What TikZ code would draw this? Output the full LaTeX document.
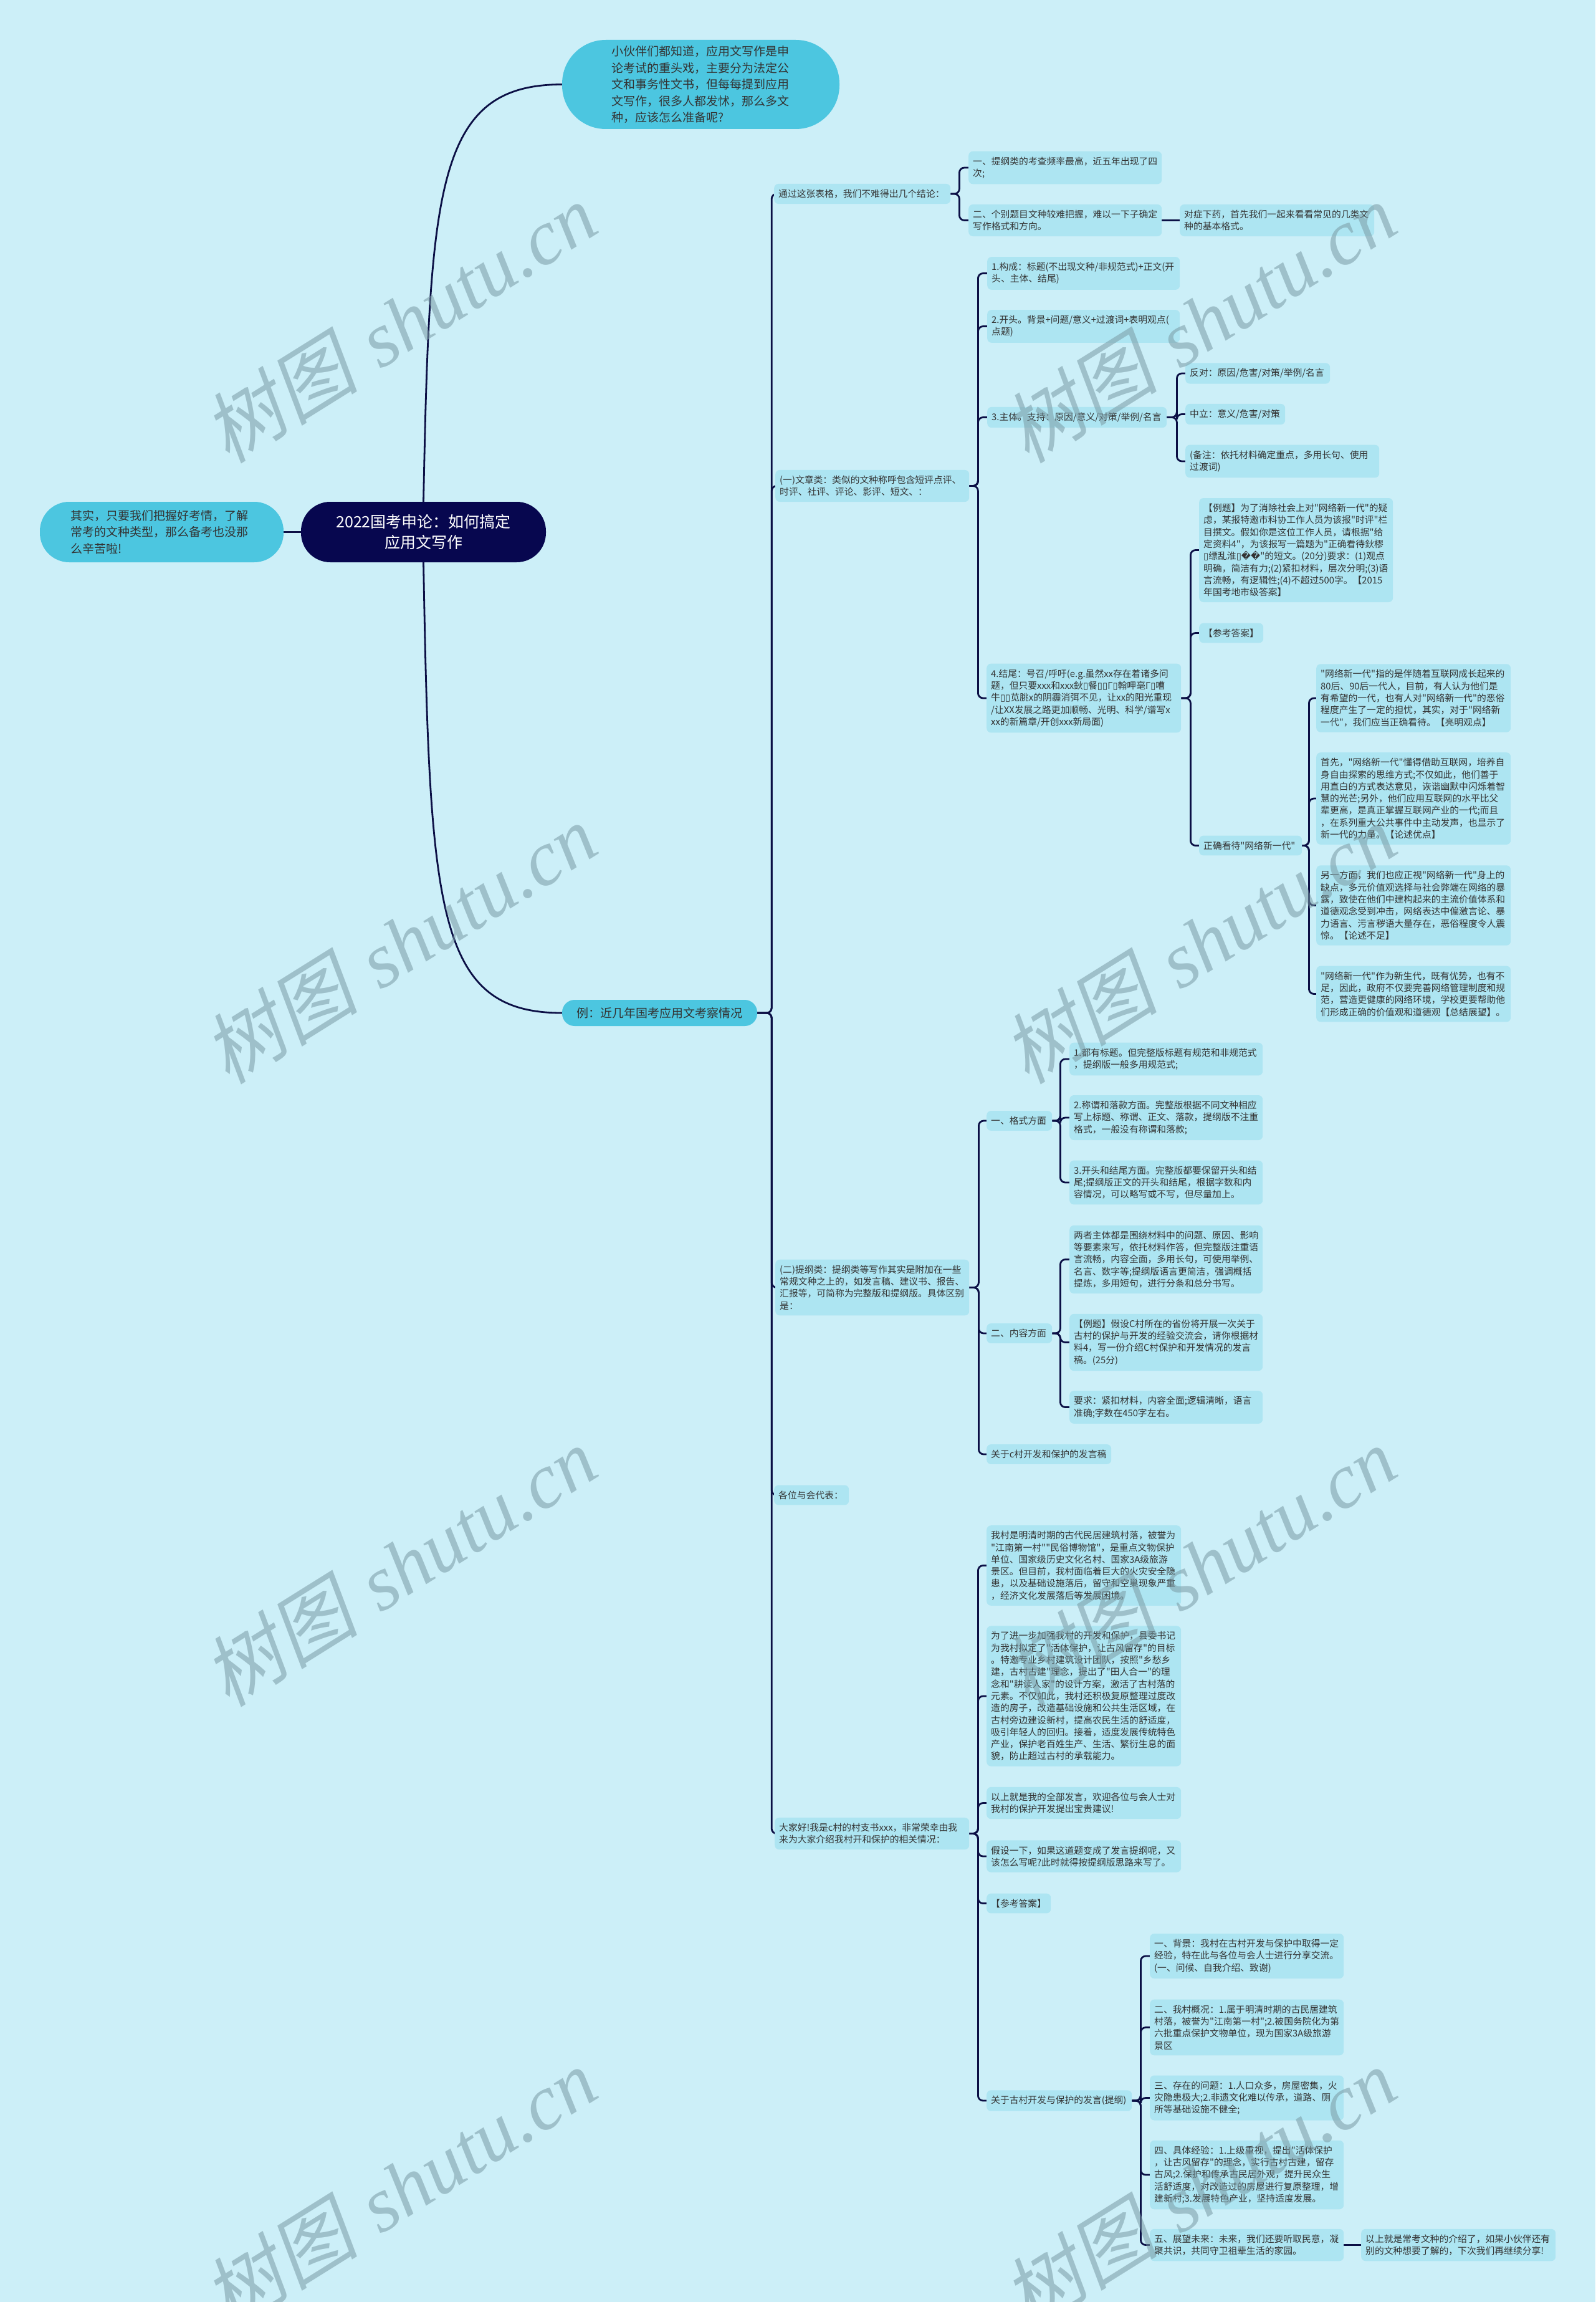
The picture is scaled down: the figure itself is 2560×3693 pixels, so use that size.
\documentclass[tikz,border=0pt]{standalone}
\usepackage{fontspec}
\newfontfamily\cjk{Noto Sans CJK SC}
\newfontfamily\djv{DejaVu Sans}
\newfontfamily\wmlat{Liberation Serif}
\newfontfamily\wmcjk{Noto Sans CJK SC}[FakeSlant=0.2]
\setlength\parindent{0pt}
\definecolor{bgc}{HTML}{CCEFF8}
\definecolor{leafc}{HTML}{ADE5F2}
\definecolor{bubc}{HTML}{4CC6E0}
\definecolor{rootc}{HTML}{07074F}
\definecolor{linec}{HTML}{0B0F45}
\definecolor{txtc}{HTML}{333333}
\definecolor{wmc}{HTML}{7A9BA5}
\newcommand{\tfu}{{\djv ▯}}
\newcommand{\rpl}{{\djv �}}
\pgfdeclarelayer{bgl}
\pgfdeclarelayer{lines}
\pgfdeclarelayer{wml}
\pgfsetlayers{bgl,lines,main,wml}
\tikzset{
  leaf/.style={rectangle, rounded corners=7pt, fill=leafc, text=txtc,
    font=\cjk\fontsize{14.8pt}{19.3pt}\selectfont, align=left,
    inner xsep=7pt, inner ysep=9pt, anchor=west},
  bubble/.style={rectangle, fill=bubc, text=txtc, align=left,
    font=\cjk\fontsize{19pt}{26.5pt}\selectfont},
  rootbox/.style={rectangle, fill=rootc, text=white, align=center,
    font=\cjk\fontsize{25pt}{33pt}\selectfont, rounded corners=47pt,
    minimum width=393pt, minimum height=97pt, inner sep=0pt},
  conn/.style={draw=linec, line width=2.8pt, rounded corners=8pt},
  wm/.style={text=wmc, opacity=0.55, rotate=32, inner sep=0pt,
    font=\fontsize{125pt}{130pt}\selectfont}
}
\begin{document}
\begin{tikzpicture}[x=1pt, y=-1pt]
\useasboundingbox (0,0) rectangle (2560,3693);
\begin{pgfonlayer}{bgl}
\fill[bgc] (0,0) rectangle (2560,3693);
\end{pgfonlayer}

% central and bubbles
\node[rootbox] (root) at (679.5,853.5) {2022国考申论：如何搞定\\应用文写作};
\node[bubble, rounded corners=47pt, minimum width=391pt, minimum height=97pt,
  text width=292pt, inner xsep=49pt, inner ysep=4pt] (left) at (259.5,853.5)
  {其实，只要我们把握好考情，了解\\常考的文种类型，那么备考也没那\\么辛苦啦!};
\node[bubble, rounded corners=70pt, minimum width=445pt, minimum height=143pt,
  text width=287pt, inner xsep=79pt, inner ysep=4pt] (top) at (1124.5,135.5)
  {小伙伴们都知道，应用文写作是申\\论考试的重头戏，主要分为法定公\\文和事务性文书，但每每提到应用\\文写作，很多人都发怵，那么多文\\种，应该怎么准备呢?};
\node[bubble, align=center, rounded corners=20pt, minimum width=313pt,
  minimum height=42pt, inner sep=0pt] (ex) at (1058.5,1625) {例：近几年国考应用文考察情况};

% level 2
\node[leaf, text width=269pt] (a) at (1242,311) {通过这张表格，我们不难得出几个结论：};
\node[leaf, text width=297pt] (b) at (1244,779.5) {(一)文章类：类似的文种称呼包含短评点评、\\时评、社评、评论、影评、短文、：};
\node[leaf, text width=297pt] (c) at (1244,2065.5) {(二)提纲类：提纲类等写作其实是附加在一些\\常规文种之上的，如发言稿、建议书、报告、\\汇报等，可简称为完整版和提纲版。具体区别\\是：};
\node[leaf, text width=106pt] (d) at (1242,2398.5) {各位与会代表：};
\node[leaf, text width=298pt] (e) at (1243,2941.5) {大家好!我是c村的村支书xxx，非常荣幸由我\\来为大家介绍我村开和保护的相关情况：};

% branch a
\node[leaf, text width=296pt] (a1) at (1554,269) {一、提纲类的考查频率最高，近五年出现了四\\次;};
\node[leaf, text width=296pt] (a2) at (1554,353.5) {二、个别题目文种较难把握，难以一下子确定\\写作格式和方向。};
\node[leaf, text width=298pt] (g) at (1893,353.5) {对症下药，首先我们一起来看看常见的几类文\\种的基本格式。};

% branch b
\node[leaf, text width=295pt] (b1) at (1584,438.5) {1.构成：标题(不出现文种/非规范式)+正文(开\\头、主体、结尾)};
\node[leaf, text width=295pt] (b2) at (1584,523.5) {2.开头。背景+问题/意义+过渡词+表明观点(\\点题)};
\node[leaf, text width=274pt] (b3) at (1584,669.5) {3.主体。支持：原因/意义/对策/举例/名言};
\node[leaf, text width=218pt] (b3a) at (1902,599) {反对：原因/危害/对策/举例/名言};
\node[leaf, text width=146pt] (b3b) at (1902,664.5) {中立：意义/危害/对策};
\node[leaf, text width=297pt] (b3c) at (1902,740) {(备注：依托材料确定重点，多用长句、使用\\过渡词)};
\node[leaf, text width=298pt] (b4) at (1583,1120) {4.结尾：号召/呼吁(e.g.虽然xx存在着诸多问\\题，但只要xxx和xxx鈥\tfu 餐\tfu\tfu Γ\tfu 翰呷毫Γ\tfu 嘈\\牛\tfu\tfu 苋朓x的阴霾消弭不见，让xx的阳光重现\\/让XX发展之路更加顺畅、光明、科学/谱写x\\xx的新篇章/开创xxx新局面)};
\node[leaf, text width=297pt] (ex1) at (1924,882.5) {【例题】为了消除社会上对"网络新一代"的疑\\虑，某报特邀市科协工作人员为该报"时评"栏\\目撰文。假如你是这位工作人员，请根据"给\\定资料4"，为该报写一篇题为"正确看待鈥樛\\\tfu 缥乱淮\tfu\rpl\rpl"的短文。(20分)要求：(1)观点\\明确，简洁有力;(2)紧扣材料，层次分明;(3)语\\言流畅，有逻辑性;(4)不超过500字。【2015\\年国考地市级答案】};
\node[leaf, text width=89pt] (ans1) at (1924,1015.5) {【参考答案】};
\node[leaf, text width=151pt] (zq) at (1924,1356.5) {正确看待"网络新一代"};
\node[leaf, text width=298pt] (p1) at (2112,1120) {"网络新一代"指的是伴随着互联网成长起来的\\80后、90后一代人，目前，有人认为他们是\\有希望的一代，也有人对"网络新一代"的恶俗\\程度产生了一定的担忧，其实，对于"网络新\\一代"，我们应当正确看待。【亮明观点】};
\node[leaf, text width=298pt] (p2) at (2112,1281) {首先，"网络新一代"懂得借助互联网，培养自\\身自由探索的思维方式;不仅如此，他们善于\\用直白的方式表达意见，诙谐幽默中闪烁着智\\慧的光芒;另外，他们应用互联网的水平比父\\辈更高，是真正掌握互联网产业的一代;而且\\，在系列重大公共事件中主动发声，也显示了\\新一代的力量。【论述优点】};
\node[leaf, text width=298pt] (p3) at (2112,1452.5) {另一方面，我们也应正视"网络新一代"身上的\\缺点，多元价值观选择与社会弊端在网络的暴\\露，致使在他们中建构起来的主流价值体系和\\道德观念受到冲击，网络表达中偏激言论、暴\\力语言、污言秽语大量存在，恶俗程度令人震\\惊。【论述不足】};
\node[leaf, text width=298pt] (p4) at (2112,1594.5) {"网络新一代"作为新生代，既有优势，也有不\\足，因此，政府不仅要完善网络管理制度和规\\范，营造更健康的网络环境，学校更要帮助他\\们形成正确的价值观和道德观【总结展望】。};

% branch c
\node[leaf, text width=91pt] (fmt) at (1583,1798) {一、格式方面};
\node[leaf, text width=91pt] (cnt) at (1583,2139) {二、内容方面};
\node[leaf, text width=186pt] (cv) at (1583,2333) {关于c村开发和保护的发言稿};
\node[leaf, text width=296pt] (c1a) at (1716,1699) {1.都有标题。但完整版标题有规范和非规范式\\，提纲版一般多用规范式;};
\node[leaf, text width=296pt] (c1b) at (1716,1793) {2.称谓和落款方面。完整版根据不同文种相应\\写上标题、称谓、正文、落款，提纲版不注重\\格式，一般没有称谓和落款;};
\node[leaf, text width=296pt] (c1c) at (1716,1897) {3.开头和结尾方面。完整版都要保留开头和结\\尾;提纲版正文的开头和结尾，根据字数和内\\容情况，可以略写或不写，但尽量加上。};
\node[leaf, text width=296pt] (c2a) at (1716,2020.5) {两者主体都是围绕材料中的问题、原因、影响\\等要素来写，依托材料作答，但完整版注重语\\言流畅，内容全面，多用长句，可使用举例、\\名言、数字等;提纲版语言更简洁，强调概括\\提炼，多用短句，进行分条和总分书写。};
\node[leaf, text width=296pt] (c2b) at (1716,2153.5) {【例题】假设C村所在的省份将开展一次关于\\古村的保护与开发的经验交流会，请你根据材\\料4，写一份介绍C村保护和开发情况的发言\\稿。(25分)};
\node[leaf, text width=296pt] (c2c) at (1716,2257.5) {要求：紧扣材料，内容全面;逻辑清晰，语言\\准确;字数在450字左右。};

% branch e
\node[leaf, text width=298pt] (e1) at (1583,2511.5) {我村是明清时期的古代民居建筑村落，被誉为\\"江南第一村""民俗博物馆"，是重点文物保护\\单位、国家级历史文化名村、国家3A级旅游\\景区。但目前，我村面临着巨大的火灾安全隐\\患，以及基础设施落后，留守和空巢现象严重\\，经济文化发展落后等发展困境。};
\node[leaf, text width=298pt] (e2) at (1583,2721) {为了进一步加强我村的开发和保护，县委书记\\为我村拟定了"活体保护，让古风留存"的目标\\。特邀专业乡村建筑设计团队，按照"乡愁乡\\建，古村古建"理念，提出了"田人合一"的理\\念和"耕读人家"的设计方案，激活了古村落的\\元素。不仅如此，我村还积极复原整理过度改\\造的房子，改造基础设施和公共生活区域，在\\古村旁边建设新村，提高农民生活的舒适度，\\吸引年轻人的回归。接着，适度发展传统特色\\产业，保护老百姓生产、生活、繁衍生息的面\\貌，防止超过古村的承载能力。};
\node[leaf, text width=298pt] (e3) at (1583,2892.5) {以上就是我的全部发言，欢迎各位与会人士对\\我村的保护开发提出宝贵建议!};
\node[leaf, text width=298pt] (e4) at (1583,2978) {假设一下，如果这道题变成了发言提纲呢，又\\该怎么写呢?此时就得按提纲版思路来写了。};
\node[leaf, text width=89pt] (e5) at (1583,3053.5) {【参考答案】};
\node[leaf, text width=219pt] (f) at (1583,3370) {关于古村开发与保护的发言(提纲)};
\node[leaf, text width=297pt] (f1) at (1845,3138) {一、背景：我村在古村开发与保护中取得一定\\经验，特在此与各位与会人士进行分享交流。\\(一、问候、自我介绍、致谢)};
\node[leaf, text width=297pt] (f2) at (1845,3252.5) {二、我村概况：1.属于明清时期的古民居建筑\\村落，被誉为"江南第一村";2.被国务院化为第\\六批重点保护文物单位，现为国家3A级旅游\\景区};
\node[leaf, text width=297pt] (f3) at (1845,3365.5) {三、存在的问题：1.人口众多，房屋密集，火\\灾隐患极大;2.非遗文化难以传承，道路、厕\\所等基础设施不健全;};
\node[leaf, text width=297pt] (f4) at (1845,3489) {四、具体经验：1.上级重视，提出"活体保护\\，让古风留存"的理念，实行古村古建，留存\\古风;2.保护和传承古民居外观，提升民众生\\活舒适度，对改造过的房屋进行复原整理，增\\建新村;3.发展特色产业，坚持适度发展。};
\node[leaf, text width=297pt] (f5) at (1845,3601.5) {五、展望未来：未来，我们还要听取民意，凝\\聚共识，共同守卫祖辈生活的家园。};
\node[leaf, text width=298pt] (g2) at (2184,3601.5) {以上就是常考文种的介绍了，如果小伙伴还有\\别的文种想要了解的，下次我们再继续分享!};

% connectors
\begin{pgfonlayer}{lines}
\draw[conn] (root.north) .. controls +(10,-505) and +(-202,0) .. (top.west);
\draw[conn] (root.south) .. controls +(10,560) and +(-202,0) .. (ex.west);
\draw[conn] (root.west) -- (left.east);
\foreach \nn in {a,b,c,d,e} \draw[conn] (ex.east) -- ++(23,0) |- (\nn.west);
\foreach \nn in {a1,a2} \draw[conn] (a.east) -- ++(14,0) |- (\nn.west);
\draw[conn] (a2.east) -- (g.west);
\foreach \nn in {b1,b2,b3,b4} \draw[conn] (b.east) -- ++(14,0) |- (\nn.west);
\foreach \nn in {b3a,b3b,b3c} \draw[conn] (b3.east) -- ++(16,0) |- (\nn.west);
\foreach \nn in {ex1,ans1,zq} \draw[conn] (b4.east) -- ++(15,0) |- (\nn.west);
\foreach \nn in {p1,p2,p3,p4} \draw[conn] (zq.east) -- ++(11,0) |- (\nn.west);
\foreach \nn in {fmt,cnt,cv} \draw[conn] (c.east) -- ++(15,0) |- (\nn.west);
\foreach \nn in {c1a,c1b,c1c} \draw[conn] (fmt.east) -- ++(13,0) |- (\nn.west);
\foreach \nn in {c2a,c2b,c2c} \draw[conn] (cnt.east) -- ++(13,0) |- (\nn.west);
\foreach \nn in {e1,e2,e3,e4,e5,f} \draw[conn] (e.east) -- ++(14,0) |- (\nn.west);
\foreach \nn in {f1,f2,f3,f4,f5} \draw[conn] (f.east) -- ++(14,0) |- (\nn.west);
\draw[conn] (f5.east) -- (g2.west);
\end{pgfonlayer}

% watermark
\begin{pgfonlayer}{wml}
\foreach \wx in {641,1924}
  \foreach \wy in {518,1514,2513,3510}
    \node[wm] (wm\wx\wy) at (\wx,\wy) {{\wmcjk 树图} {\wmlat\itshape shutu.cn}};
\end{pgfonlayer}
\end{tikzpicture}
\end{document}
